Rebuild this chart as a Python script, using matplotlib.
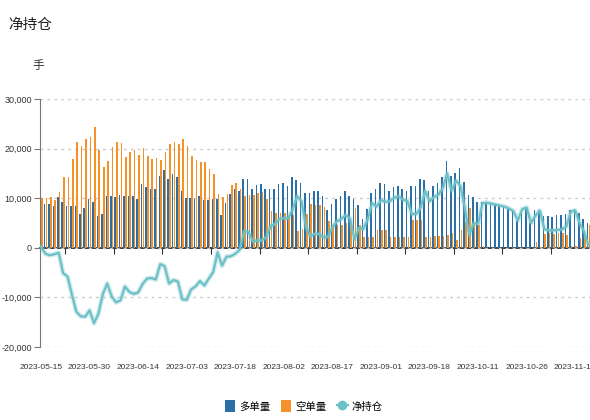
# -*- coding: utf-8 -*-

import numpy as np
import pandas as pd
import matplotlib
matplotlib.use('Agg')
import matplotlib.pyplot as plt
import matplotlib.patheffects as pe
from matplotlib.patches import Patch
from matplotlib.lines import Line2D
from matplotlib.ticker import FuncFormatter, FixedLocator

plt.rcParams['font.family'] = ['Noto Sans CJK SC', 'DejaVu Sans']

# trading days (exchange holidays removed)
holidays = ['2023-06-22', '2023-06-23', '2023-09-29', '2023-10-02', '2023-10-03',
            '2023-10-04', '2023-10-05', '2023-10-06']
days = pd.bdate_range('2023-05-15', '2023-11-15')
days = days[~days.isin(pd.to_datetime(holidays))]
date_labels = list(days.strftime('%Y-%m-%d'))

long_vol = [10200, 8800, 8800, 8400, 10200, 9200, 8500, 8500, 8400, 6800,
            8000, 9800, 9200, 6500, 6900, 10400, 10500, 10300, 10600, 10500,
            10400, 10500, 9800, 12800, 12300, 11800, 11800, 14400, 15700, 13800,
            14800, 14200, 11500, 10100, 10100, 9900, 10500, 9700, 9700, 9900,
            9900, 6700, 9000, 10900, 11900, 11500, 13800, 13800, 11900, 12600,
            12800, 11900, 11900, 11800, 12800, 13000, 12500, 14300, 13700, 13100,
            11000, 11100, 11400, 11400, 10400, 7700, 8800, 9800, 10400, 11500,
            10400, 9800, 8600, 5900, 7800, 11100, 11800, 13100, 12800, 11500,
            12200, 12500, 11800, 11500, 12500, 12500, 13800, 13600, 11500, 12500,
            13000, 14300, 17500, 14500, 15000, 16000, 13300, 10600, 10200, 9300,
            9300, 9100, 8900, 8700, 8500, 8300, 7900, 7400, 5500, 7800,
            8100, 5000, 7700, 7700, 6500, 6500, 6300, 6600, 6700, 6800,
            7600, 7800, 7000, 5800, 5000]

short_vol = [10000, 10000, 10300, 9700, 11200, 14300, 14300, 17900, 21300, 20600,
             21900, 22400, 24400, 19800, 16200, 17600, 20300, 21300, 21200, 18300,
             19300, 19800, 18800, 20100, 18500, 17900, 18200, 17700, 19400, 21000,
             21300, 21000, 21900, 20600, 18500, 17700, 17200, 17300, 15900, 14800,
             10800, 10300, 10800, 12600, 13100, 11900, 10500, 10600, 10600, 11100,
             11300, 9800, 7500, 7000, 7000, 7000, 6500, 6600, 3300, 3700,
             6800, 8800, 8600, 8600, 8300, 5500, 4600, 4500, 4600, 4900,
             4500, 8100, 4600, 2100, 2100, 2100, 3500, 3500, 3500, 2100,
             2100, 2100, 2100, 2100, 5700, 5700, 5700, 2100, 2100, 2300,
             2300, 2300, 2500, 3000, 1500, 3500, 5300, 8000, 5200, 4500,
             300, 0, 0, 0, 0, 0, 0, 0, 0, 0,
             0, 0, 1200, 200, 2700, 3000, 2800, 3000, 3000, 2500,
             300, 300, 2000, 2500, 4500]

net_pos = [200, -1200, -1500, -1300, -1000, -5100, -5800, -9400, -12900, -13800,
           -13900, -12600, -15200, -13300, -9300, -7200, -9800, -11000, -10600, -7800,
           -8900, -9300, -9000, -7300, -6200, -6100, -6400, -3300, -3700, -7200,
           -6500, -6800, -10400, -10500, -8400, -7800, -6700, -7600, -6200, -4900,
           -900, -3600, -1800, -1700, -1200, -400, 3300, 3200, 1300, 1500,
           1500, 2100, 4400, 4800, 5800, 6000, 6000, 7700, 10400, 9400,
           4200, 2300, 2800, 2800, 2100, 2200, 4200, 5300, 5800, 6600,
           5900, 1700, 4000, 3800, 5700, 9000, 8300, 9600, 9300, 9400,
           10100, 10400, 9700, 9400, 6800, 6800, 8100, 11500, 9400, 10200,
           10700, 12000, 15000, 11500, 13500, 12500, 8000, 2600, 5000, 4800,
           9000, 9100, 8900, 8700, 8500, 8300, 7900, 7400, 5500, 7800,
           8100, 5000, 6500, 7500, 3800, 3500, 3500, 3600, 3700, 4300,
           7300, 7500, 5000, 3300, 500]

y_ticks = [-20000, -10000, 0, 10000, 20000, 30000]

c_long = '#2a6fa6'
c_short = '#f5912a'
c_net = '#6cc0c6'
num_font = ['Liberation Sans', 'DejaVu Sans']

fig = plt.figure(figsize=(5.9, 4.2), dpi=100)
ax = fig.add_axes([40 / 590, 1 - 347 / 420, 550 / 590, 248 / 420])

x = np.arange(len(date_labels))
ax.bar(x - 0.2, long_vol, width=0.36, color=c_long, zorder=2)
ax.bar(x + 0.2, short_vol, width=0.36, color=c_short, zorder=2)
ax.plot(x, net_pos, color=c_net, lw=1.6, zorder=4,
        path_effects=[pe.Stroke(linewidth=3.6, foreground=c_net, alpha=0.3), pe.Normal()])

ax.set_xlim(-0.23, 124.35)
ax.set_ylim(y_ticks[0], y_ticks[-1])
ax.set_yticks(y_ticks)
ax.yaxis.set_major_formatter(FuncFormatter(lambda v, p: '{:,.0f}'.format(v)))
ax.grid(axis='y', color='#cccccc', lw=1, linestyle=(0, (2, 3)))
ax.set_axisbelow(True)

for s in ['top', 'right', 'bottom']:
    ax.spines[s].set_visible(False)
ax.spines['left'].set_color('#777777')
ax.tick_params(axis='y', length=4, color='#777777', labelsize=6.5, labelcolor='#333333', pad=2)
for lab in ax.get_yticklabels():
    lab.set_family(num_font)

ax.set_xticks(x[::11])
ax.set_xticklabels(date_labels[::11])
ax.tick_params(axis='x', length=0, labelsize=6, labelcolor='#333333', pad=12)
for lab in ax.get_xticklabels():
    lab.set_family(num_font)

# category axis sits on the zero line
zero_ax = ax.secondary_xaxis(-y_ticks[0] / (y_ticks[-1] - y_ticks[0]))
zero_ax.spines['bottom'].set_color('#333333')
zero_ax.spines['bottom'].set_linewidth(1.3)
zero_ax.xaxis.set_major_locator(FixedLocator(x[::11][:-1] + 5.5))
zero_ax.tick_params(axis='x', length=4, color='#333333', labelbottom=False)

fig.text(8 / 590, 1 - 25 / 420, '净持仓', fontsize=10.5, color='#222222', va='center')
fig.text(38 / 590, 1 - 66 / 420, '手', fontsize=8.5, color='#333333', va='center', ha='center')

handles = [Patch(facecolor=c_long, label='多单量'),
           Patch(facecolor=c_short, label='空单量'),
           Line2D([0], [0], color=c_net, lw=1.6, marker='o', markersize=6, label='净持仓')]
fig.legend(handles=handles, loc='center', bbox_to_anchor=(0.515, 0.033), ncol=3,
           frameon=False, fontsize=7.5, handlelength=1.0, handleheight=1.4,
           columnspacing=1.0, handletextpad=0.4)

plt.savefig('out.png', dpi=100, format='png')
